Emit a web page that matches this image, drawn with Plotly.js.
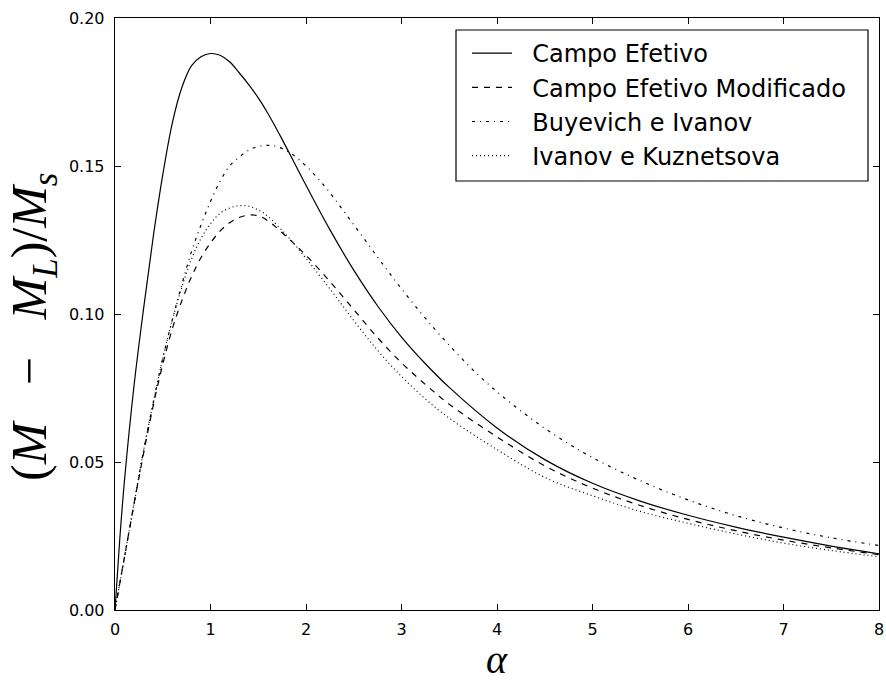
<!DOCTYPE html>
<html>
<head>
<meta charset="utf-8">
<script src="https://cdn.plot.ly/plotly-3.0.1.min.js"></script>
<style>html,body{margin:0;padding:0;background:#fff;}#chart{width:886px;height:684px;}</style>
</head>
<body>
<div id="chart"></div>
<script>
// Series names
const seriesNames = ["Campo Efetivo", "Campo Efetivo Modificado", "Buyevich e Ivanov", "Ivanov e Kuznetsova"];

// Campo Efetivo (solid)
const ceX = [0, 0.05, 0.1, 0.2, 0.3, 0.4, 0.5, 0.6, 0.7, 0.8, 0.9, 1.0, 1.1, 1.2, 1.3, 1.4, 1.5, 1.6, 1.75, 2.0, 2.25, 2.5, 2.75, 3.0, 3.25, 3.5, 4.0, 4.5, 5.0, 5.5, 6.0, 6.5, 7.0, 7.5, 8.0];
const ceY = [0, 0.024, 0.044, 0.076, 0.102, 0.126, 0.147, 0.1645, 0.1765, 0.1838, 0.1869, 0.188, 0.1874, 0.1852, 0.1815, 0.1775, 0.173, 0.1678, 0.159, 0.1435, 0.1285, 0.1148, 0.1027, 0.0922, 0.0832, 0.0752, 0.0615, 0.0508, 0.0428, 0.0368, 0.032, 0.028, 0.0246, 0.0216, 0.019];

// Campo Efetivo Modificado (dashed)
const cemX = [0, 0.1, 0.2, 0.3, 0.4, 0.5, 0.6, 0.7, 0.8, 0.9, 1.0, 1.1, 1.2, 1.3, 1.4, 1.5, 1.6, 1.8, 2.0, 2.25, 2.5, 2.75, 3.0, 3.25, 3.5, 4.0, 4.5, 5.0, 5.5, 6.0, 6.5, 7.0, 7.5, 8.0];
const cemY = [0, 0.018, 0.036, 0.053, 0.069, 0.083, 0.095, 0.1045, 0.1125, 0.119, 0.124, 0.128, 0.1308, 0.1326, 0.1334, 0.1332, 0.1315, 0.126, 0.1198, 0.111, 0.1015, 0.092, 0.0835, 0.0762, 0.0695, 0.0585, 0.0487, 0.0412, 0.0353, 0.0306, 0.0268, 0.0236, 0.021, 0.0187];

// Buyevich e Ivanov (dash-dot)
const biX = [0, 0.1, 0.2, 0.3, 0.4, 0.5, 0.6, 0.7, 0.8, 0.9, 1.0, 1.1, 1.2, 1.3, 1.4, 1.5, 1.6, 1.7, 1.83, 2.0, 2.2, 2.4, 2.6, 2.8, 3.0, 3.2, 3.4, 3.8, 4.2, 4.6, 5.0, 5.5, 6.0, 6.5, 7.0, 7.5, 8.0];
const biY = [0, 0.018, 0.036, 0.054, 0.070, 0.085, 0.098, 0.110, 0.121, 0.130, 0.138, 0.1448, 0.150, 0.153, 0.1553, 0.1566, 0.157, 0.1565, 0.1545, 0.150, 0.143, 0.1345, 0.1258, 0.117, 0.1085, 0.1005, 0.093, 0.0795, 0.0685, 0.0592, 0.0515, 0.0437, 0.0372, 0.0319, 0.0277, 0.0244, 0.0218];

// Ivanov e Kuznetsova (dotted)
const ikX = [0, 0.1, 0.2, 0.3, 0.4, 0.5, 0.6, 0.7, 0.8, 0.9, 1.0, 1.1, 1.2, 1.3, 1.4, 1.5, 1.6, 1.8, 2.0, 2.25, 2.5, 2.75, 3.0, 3.25, 3.5, 4.0, 4.5, 5.0, 5.5, 6.0, 6.5, 7.0, 7.5, 8.0];
const ikY = [0, 0.018, 0.036, 0.054, 0.070, 0.085, 0.098, 0.109, 0.1185, 0.1255, 0.1305, 0.134, 0.1358, 0.1366, 0.1364, 0.1352, 0.133, 0.1265, 0.1188, 0.1085, 0.0978, 0.0877, 0.0789, 0.0713, 0.0648, 0.0542, 0.0448, 0.0386, 0.0333, 0.0293, 0.0257, 0.0226, 0.0201, 0.018];

// Tick values / labels
const xTicks = [0, 1, 2, 3, 4, 5, 6, 7, 8];
const yTicks = [0, 0.05, 0.10, 0.15, 0.20];
const yTickText = ["0.00", "0.05", "0.10", "0.15", "0.20"];

const dashes = ["solid", "6px,6px", "3px,5px,1px,5px", "1px,3px"];
const xs = [ceX, cemX, biX, ikX];
const ys = [ceY, cemY, biY, ikY];

const traces = seriesNames.map((n, i) => ({
  x: xs[i], y: ys[i], name: "&nbsp;&nbsp;" + n, type: "scatter", mode: "lines",
  line: {color: "#000", width: 1.2, dash: dashes[i], shape: "spline", smoothing: 1}
}));

const axisCommon = {
  showgrid: false, zeroline: false, showline: true, linecolor: "#000", linewidth: 1.3,
  mirror: "allticks", ticks: "inside", ticklen: 6, tickwidth: 1, tickcolor: "#000",
  tickfont: {family: "DejaVu Sans", size: 16, color: "#000"}
};

// paper-coordinate helpers (plot area 115..879 x 18..610)
const px2x = p => (p - 115) / 764;
const py2y = p => (610 - p) / 592;

const layout = {
  width: 886, height: 684,
  margin: {l: 115, r: 7, t: 18, b: 74},
  paper_bgcolor: "#fff", plot_bgcolor: "#fff",
  showlegend: true,
  legend: {
    x: px2x(467), y: py2y(31), xanchor: "left", yanchor: "top",
    borderwidth: 0, bgcolor: "rgba(0,0,0,0)",
    font: {family: "DejaVu Sans", size: 24, color: "#000"},
    tracegroupgap: 0, itemwidth: 40
  },
  shapes: [{
    type: "rect", xref: "paper", yref: "paper",
    x0: px2x(456), x1: px2x(868), y0: py2y(181), y1: py2y(30),
    line: {color: "#000", width: 1.2}, fillcolor: "#fff", layer: "above"
  }],
  xaxis: Object.assign({}, axisCommon, {
    range: [0, 8], tickvals: xTicks, ticktext: xTicks.map(String),
    ticklabelstandoff: 4
  }),
  yaxis: Object.assign({}, axisCommon, {
    range: [0, 0.20], tickvals: yTicks, ticktext: yTickText,
    ticklabelstandoff: 6
  }),
  annotations: [
    {
      text: "<i>α</i>", xref: "paper", yref: "paper", x: 0.5, y: py2y(683),
      xanchor: "center", yanchor: "bottom", showarrow: false, borderpad: 0,
      font: {family: "Liberation Serif", size: 40, color: "#000"}
    },
    {
      text: "(<i>M</i>&nbsp;&nbsp;&nbsp;−&nbsp;&nbsp;&nbsp;<i>M</i><sub><i>L</i></sub>)/<i>M</i><sub><i>s</i></sub>",
      xref: "paper", yref: "paper", x: px2x(33), y: py2y(327),
      xanchor: "center", yanchor: "middle", showarrow: false, textangle: -90,
      font: {family: "Liberation Serif", size: 50, color: "#000"}
    }
  ]
};

Plotly.newPlot("chart", traces, layout, {displayModeBar: false, staticPlot: true});
</script>
</body>
</html>
